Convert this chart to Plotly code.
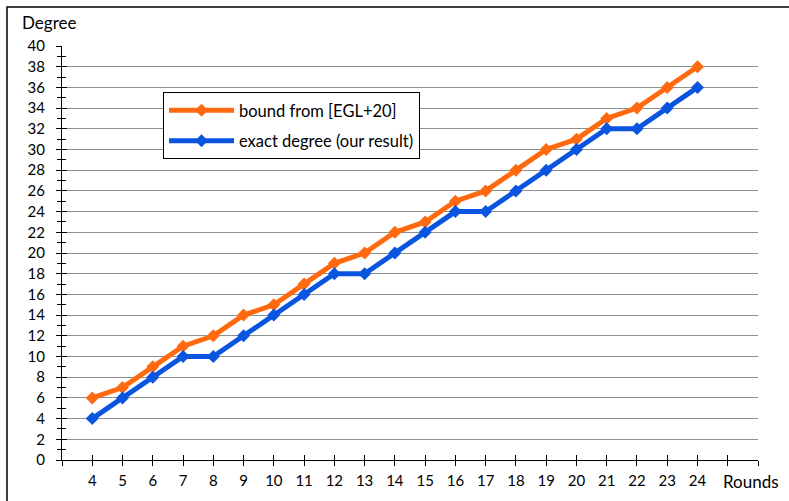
import plotly.graph_objects as go

rounds = list(range(4, 25))
bound_egl = [6, 7, 9, 11, 12, 14, 15, 17, 19, 20, 22, 23, 25, 26, 28, 30, 31, 33, 34, 36, 38]
exact_deg = [4, 6, 8, 10, 10, 12, 14, 16, 18, 18, 20, 22, 24, 24, 26, 28, 30, 32, 32, 34, 36]
x_ticks = list(range(3, 27))
x_ticktext = [str(v) if 4 <= v <= 24 else "" for v in x_ticks]
y_ticks = list(range(0, 41, 2))

FONT = "Lato"
ORANGE = "#FF6A10"
BLUE = "#0A55E0"

fig = go.Figure()
fig.add_trace(go.Scatter(
    x=rounds, y=bound_egl, mode="lines+markers", name="bound from [EGL+20]",
    legendgroup="a",
    line=dict(color=ORANGE, width=5),
    marker=dict(symbol="diamond", size=10, color=ORANGE),
))
fig.add_trace(go.Scatter(
    x=rounds, y=exact_deg, mode="lines+markers", name="exact degree (our result)",
    legendgroup="b",
    line=dict(color=BLUE, width=5),
    marker=dict(symbol="diamond", size=10, color=BLUE),
))
# invisible helper trace so the overlay axes (inner halves of crossing ticks) are drawn
fig.add_trace(go.Scatter(x=[None], y=[None], xaxis="x2", yaxis="y2",
                         showlegend=False, hoverinfo="skip"))

fig.update_layout(
    width=789, height=501,
    margin=dict(l=62, r=31, t=46, b=41, autoexpand=False),
    paper_bgcolor="white", plot_bgcolor="white",
    font=dict(family=FONT, size=15, color="black"),
    showlegend=True,
    legend=dict(
        x=(163 - 62) / 696, y=(460 - 92) / 414, xanchor="left", yanchor="top",
        bgcolor="white", bordercolor="black", borderwidth=1,
        font=dict(family=FONT, size=16.5, color="black"),
        tracegroupgap=6, itemwidth=65,
        entrywidth=210, entrywidthmode="pixels",
    ),
    xaxis=dict(
        range=[3, 26], tickmode="array", tickvals=x_ticks, ticktext=x_ticktext,
        ticks="outside", ticklen=5, tickcolor="black", tickwidth=1,
        showline=True, linecolor="black", linewidth=1, automargin=False,
        showgrid=False, zeroline=False, ticklabelstandoff=2,
        tickfont=dict(family=FONT, size=15),
    ),
    xaxis2=dict(
        range=[3, 26], overlaying="x", anchor="y", side="bottom", automargin=False,
        tickmode="array", tickvals=x_ticks, showticklabels=False,
        ticks="inside", ticklen=5, tickcolor="black", tickwidth=1,
        showline=False, showgrid=False, zeroline=False,
    ),
    yaxis=dict(
        range=[0, 40], tickmode="array", tickvals=y_ticks, automargin=False,
        ticks="outside", ticklen=5, tickcolor="black", tickwidth=1,
        minor=dict(dtick=1, tick0=0, ticks="outside", ticklen=4, tickcolor="black", showgrid=False),
        showline=True, linecolor="black", linewidth=1,
        showgrid=True, gridcolor="#8f8f8f", gridwidth=1,
        zeroline=False, ticklabelstandoff=8,
        tickfont=dict(family=FONT, size=15),
    ),
    yaxis2=dict(
        range=[0, 40], overlaying="y", anchor="x", side="left", automargin=False,
        tickmode="array", tickvals=y_ticks, showticklabels=False,
        ticks="inside", ticklen=5, tickcolor="black", tickwidth=1,
        minor=dict(dtick=1, tick0=0, ticks="inside", ticklen=4, tickcolor="black", showgrid=False),
        showline=False, showgrid=False, zeroline=False,
    ),
    shapes=[dict(
        type="rect", xref="paper", yref="paper",
        x0=(7 - 62) / 696, x1=1.2, y0=-0.2, y1=(460 - 7) / 414,
        line=dict(color="black", width=1.5), fillcolor="rgba(0,0,0,0)", layer="below",
    )],
    annotations=[
        dict(text="Degree", xref="paper", yref="paper",
             x=(20 - 62) / 696, y=(460 - 23) / 414, xanchor="left", yanchor="middle",
             showarrow=False, font=dict(family=FONT, size=17)),
        dict(text="Rounds", xref="paper", yref="paper",
             x=(751 - 62) / 696, y=(460 - 481) / 414, xanchor="center", yanchor="middle",
             showarrow=False, font=dict(family=FONT, size=17)),
    ],
)

fig.write_html("out.html")
